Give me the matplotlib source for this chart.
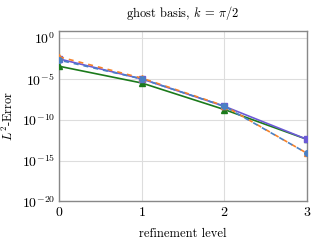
import matplotlib
matplotlib.use("Agg")
import matplotlib.pyplot as plt
import numpy as np

plt.rcParams['font.family'] = 'serif'
plt.rcParams['font.serif'] = ['cmr10', 'DejaVu Serif']
plt.rcParams['mathtext.fontset'] = 'cm'
plt.rcParams['axes.formatter.use_mathtext'] = True

levels = [0, 1, 2, 3]
err_orange = [10**-2.3, 10**-4.9, 10**-8.3, 10**-14.1]
err_blue = [10**-2.7, 10**-5.0, 10**-8.35, 10**-14.1]
err_green = [10**-3.45, 10**-5.5, 10**-8.75, 10**-12.4]
err_purple = [10**-2.55, 10**-5.0, 10**-8.35, 10**-12.4]
yticks = [1e0, 1e-5, 1e-10, 1e-15, 1e-20]
xticks = [0, 1, 2, 3]

fig = plt.figure(figsize=(3.16, 2.42), dpi=100)
ax = fig.add_axes([0.187, 0.168, 0.784, 0.705])

c_orange = '#f5822a'
c_blue = '#4a80c4'
c_green = '#1b7a1b'
c_purple = '#6c5ad6'

ax.plot(levels, err_green, color=c_green, lw=1.2, marker='^', ms=4.5, zorder=3)
ax.plot(levels, err_purple, color=c_purple, lw=1.2, marker='s', ms=4.5, zorder=4)
ax.plot(levels, err_orange, color=c_orange, lw=1.2, ls=(0, (3, 3)), marker='^', ms=4.5, zorder=5)
ax.plot(levels, err_blue, color=c_blue, lw=1.2, ls=(3, (3, 3)), marker='o', ms=4, zorder=6)

ax.set_yscale('log')
ax.set_xlim(0, 3)
ax.set_ylim(1e-20, 10**0.9)
ax.set_yticks(yticks)
ax.minorticks_off()
ax.set_xticks(xticks)
ax.tick_params(length=0, labelsize=10, pad=3)
ax.grid(True, color='#dddddd', lw=0.8)
for s in ax.spines.values():
    s.set_color('#888888')
    s.set_linewidth(1.0)

ax.set_title(r'ghost basis, $k$ = $\pi/2$', fontsize=9, pad=10)
ax.set_xlabel('refinement level', fontsize=9, labelpad=7)
ax.set_ylabel(r'$L^2$-Error', fontsize=9)

fig.savefig('out.png', dpi=100)
